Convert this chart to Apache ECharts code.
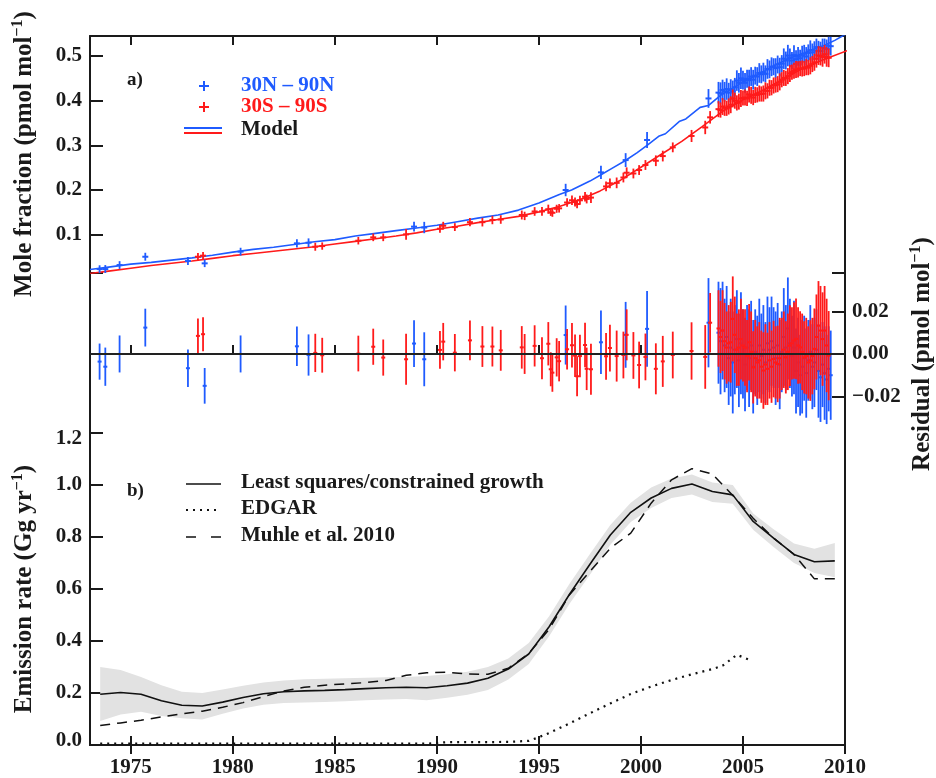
<!DOCTYPE html>
<html><head><meta charset="utf-8">
<script src="https://cdn.jsdelivr.net/npm/echarts@6/dist/echarts.min.js"></script>
<style>html,body{margin:0;padding:0;background:#fff}#c{width:936px;height:778px}</style>
</head><body><div id="c"></div>
<script>
// ---------------- DATA ----------------
const xTicks = [1975, 1980, 1985, 1990, 1995, 2000, 2005, 2010];
const moleTicks = [0.1, 0.2, 0.3, 0.4, 0.5];
const residTicks = [-0.02, 0, 0.02];
const emisTicks = [0, 0.2, 0.4, 0.6, 0.8, 1.0, 1.2];

// Model, 30N-90N
const modelNYears = [1973.0,1974.0,1975.0,1976.0,1977.0,1978.0,1979.0,1980.0,1981.0,1982.0,1983.0,1984.0,1985.0,1986.0,1987.0,1988.0,1989.0,1990.0,1991.0,1992.0,1993.0,1994.0,1995.0,1996.0,1996.6,1997.0,1997.5,1998.0,1998.6,1999.2,1999.8,2000.3,2000.9,2001.2,2001.9,2002.2,2002.9,2003.3,2003.9,2004.5,2005.0,2005.5,2006.0,2006.5,2007.0,2007.5,2008.0,2008.5,2009.0,2009.5,2010.0];
const modelNValues = [0.022,0.028,0.034,0.038,0.043,0.048,0.054,0.061,0.067,0.072,0.078,0.084,0.089,0.097,0.103,0.109,0.115,0.121,0.129,0.137,0.144,0.155,0.171,0.190,0.200,0.209,0.220,0.233,0.249,0.265,0.283,0.300,0.321,0.326,0.354,0.359,0.385,0.389,0.412,0.428,0.442,0.453,0.465,0.478,0.489,0.499,0.507,0.516,0.524,0.535,0.548];
// Model, 30S-90S
const modelSYears = [1973.0,1974.0,1975.0,1976.0,1977.0,1978.0,1979.0,1980.0,1981.0,1982.0,1983.0,1984.0,1985.0,1986.0,1987.0,1988.0,1989.0,1990.0,1991.0,1992.0,1993.0,1994.0,1995.0,1996.0,1997.0,1998.0,1999.0,2000.0,2001.0,2002.0,2003.0,2004.0,2005.0,2006.0,2007.0,2008.0,2009.0,2010.1];
const modelSValues = [0.013,0.019,0.025,0.031,0.036,0.041,0.047,0.053,0.058,0.063,0.068,0.073,0.079,0.085,0.091,0.097,0.104,0.112,0.119,0.127,0.134,0.141,0.151,0.163,0.178,0.198,0.222,0.251,0.280,0.309,0.342,0.376,0.402,0.424,0.449,0.474,0.493,0.512];

// Observations 30N-90N (year, mole fraction, uncertainty, residual)
const obsNYears = [1973.47,1973.75,1974.45,1975.71,1977.80,1978.62,1980.38,1983.14,1983.71,1988.88,1989.38,1996.31,1998.04,1999.25,2000.30,2003.31,
 2003.8,2003.9,2004.0,2004.1,2004.2,2004.3,2004.4,2004.5,
 2004.6,2004.7,2004.8,2004.9,2005.0,2005.1,2005.2,2005.3,
 2005.4,2005.5,2005.6,2005.7,2005.8,2005.9,2006.0,2006.1,
 2006.2,2006.3,2006.4,2006.5,2006.6,2006.7,2006.8,2006.9,
 2007.0,2007.1,2007.2,2007.3,2007.4,2007.5,2007.6,2007.7,
 2007.8,2007.9,2008.0,2008.1,2008.2,2008.3,2008.4,2008.5,
 2008.6,2008.7,2008.8,2008.9,2009.0,2009.1,2009.2,2009.3];
const obsNValues = [0.023,0.023,0.032,0.0506,0.041,0.0358,0.062,0.0806,0.082,0.118,0.116,0.200,0.2395,0.267,0.312,0.405,
 0.418,0.416,0.424,0.420,0.426,0.418,0.425,0.421,
 0.430,0.445,0.440,0.450,0.446,0.440,0.449,0.446,
 0.454,0.447,0.456,0.454,0.462,0.459,0.464,0.460,
 0.471,0.470,0.476,0.476,0.473,0.481,0.475,0.483,
 0.494,0.490,0.501,0.496,0.490,0.502,0.493,0.499,
 0.495,0.501,0.505,0.499,0.507,0.513,0.508,0.512,
 0.520,0.512,0.511,0.519,0.517,0.516,0.523,0.522];
const obsNErr = [0.0085,0.009,0.0087,0.0089,0.0088,0.0084,0.0087,0.0093,0.0097,0.011,0.0127,0.0139,0.0149,0.0155,0.0178,0.021,
 0.024,0.025,0.023,0.022,0.024,0.022,0.023,0.024,
 0.021,0.023,0.022,0.024,0.021,0.022,0.020,0.023,
 0.021,0.022,0.020,0.021,0.022,0.020,0.021,0.019,
 0.022,0.020,0.021,0.019,0.022,0.020,0.021,0.019,
 0.023,0.020,0.024,0.021,0.019,0.022,0.020,0.021,
 0.019,0.022,0.020,0.021,0.019,0.022,0.020,0.021,
 0.019,0.022,0.021,0.020,0.022,0.021,0.020,0.021];
const resNValues = [-0.0036,-0.006,0,0.0124,-0.0067,-0.015,0,0.0036,-0.0005,0.0049,-0.0025,0.0089,0.0055,0.009,0.0118,0.0147,
 0.010,0.006,0.011,0.004,0.008,-0.002,0.003,-0.004,
 0.002,0.007,-0.003,0.005,0.000,-0.005,0.003,-0.002,
 0.004,-0.006,0.001,-0.003,0.004,-0.001,0.002,-0.004,
 0.005,0.002,0.006,0.003,-0.002,0.004,-0.005,0.001,
 0.008,0.003,0.012,0.005,-0.001,0.003,-0.008,-0.004,
 -0.010,-0.006,-0.002,-0.009,-0.003,0.001,-0.006,-0.004,
 0.002,-0.008,-0.011,-0.005,-0.009,-0.012,-0.007,-0.010];

// Observations 30S-90S
const obsSYears = [1978.29,1978.54,1984.04,1984.38,1986.15,1986.88,1987.37,1988.49,1990.15,1990.31,1990.88,1991.62,1992.23,1992.72,1993.13,1994.16,1994.30,1994.79,1995.15,1995.46,1995.58,1995.66,1995.87,1995.99,1996.38,1996.62,1996.77,1996.87,1997.01,1997.26,1997.34,1997.55,1998.29,1998.48,1998.81,1999.14,1999.30,1999.63,1999.91,2000.22,2000.73,2001.07,2001.56,2002.48,2003.15,2003.39,
 2003.8,2003.9,2004.0,2004.1,2004.2,2004.3,2004.4,2004.5,2004.6,2004.7,2004.8,
 2004.9,2005.0,2005.1,2005.2,2005.3,2005.4,2005.5,2005.6,2005.7,2005.8,2005.9,
 2006.0,2006.1,2006.2,2006.3,2006.4,2006.5,2006.6,2006.7,2006.8,2006.9,2007.0,
 2007.1,2007.2,2007.3,2007.4,2007.5,2007.6,2007.7,2007.8,2007.9,2008.0,2008.1,
 2008.2,2008.3,2008.4,2008.5,2008.6,2008.7,2008.8,2008.9,2009.0,2009.1,2009.2];
const obsSValues = [0.0506,0.053,0.073,0.0745,0.0865,0.094,0.094,0.1007,0.1134,0.120,0.117,0.128,0.128,0.1328,0.134,0.144,0.142,0.152,0.152,0.157,0.150,0.149,0.158,0.159,0.172,0.177,0.173,0.1686,0.177,0.185,0.180,0.183,0.208,0.215,0.216,0.228,0.2387,0.237,0.2447,0.256,0.2655,0.276,0.2955,0.321,0.340,0.3627,
 0.381,0.379,0.387,0.384,0.383,0.387,0.391,0.405,0.400,0.395,0.398,
 0.405,0.406,0.407,0.405,0.414,0.412,0.407,0.413,0.413,0.416,0.415,
 0.416,0.422,0.422,0.429,0.429,0.434,0.435,0.437,0.442,0.447,0.451,
 0.450,0.455,0.461,0.464,0.467,0.470,0.470,0.472,0.472,0.472,0.475,
 0.474,0.478,0.482,0.486,0.494,0.501,0.500,0.498,0.504,0.498,0.496];
const obsSErr = [0.0082,0.008,0.009,0.0082,0.0084,0.0085,0.0085,0.012,0.0089,0.0088,0.0088,0.0094,0.0096,0.0094,0.0096,0.010,0.0094,0.0097,0.0099,0.0102,0.008,0.009,0.009,0.0095,0.0095,0.0105,0.010,0.0094,0.010,0.0105,0.010,0.012,0.011,0.011,0.012,0.011,0.012,0.011,0.011,0.011,0.012,0.012,0.011,0.0135,0.015,0.014,
 0.018,0.017,0.019,0.018,0.017,0.018,0.019,0.020,0.018,0.017,0.018,
 0.019,0.017,0.018,0.017,0.018,0.019,0.017,0.018,0.017,0.018,0.017,
 0.018,0.019,0.017,0.018,0.017,0.018,0.017,0.018,0.019,0.017,0.018,
 0.017,0.018,0.019,0.017,0.018,0.019,0.018,0.017,0.018,0.017,0.018,
 0.017,0.019,0.018,0.019,0.020,0.021,0.021,0.022,0.021,0.022,0.021];
const resSValues = [0.0085,0.0093,0.0005,-0.0006,0.0002,0.0034,-0.0017,-0.0025,0.0019,0.0058,0.0006,0.0064,0.0035,0.0035,0.0017,0.0031,0,0.0038,-0.002,0.0048,-0.0072,-0.0088,-0.0016,-0.0034,0.0022,0.0041,-0.0008,-0.0105,-0.001,0.0042,-0.007,-0.0072,-0.0011,0.0028,-0.001,-0.0005,0.009,-0.0007,-0.0052,-0.0014,-0.007,-0.0035,-0.0005,0.0014,-0.0014,0.0147,
 0.012,0.008,0.011,0.006,0.003,0.005,0.0055,0.0165,0.009,0.002,0.003,
 0.007,0.004,0.003,-0.001,0.0055,0.001,-0.0063,-0.002,-0.004,-0.003,-0.006,
 -0.0078,-0.005,-0.007,-0.003,-0.006,-0.0024,-0.004,-0.0047,-0.002,0.000,0.002,
 -0.0016,0.001,0.0039,0.005,0.0063,0.0071,0.004,0.0031,0.001,-0.0016,-0.001,
 -0.004,-0.0031,-0.001,0.0024,0.008,0.0133,0.011,0.007,0.011,0.004,-0.0008];

// Emission rates (Gg/yr)
const emisYears = [1973.5,1974.5,1975.5,1976.5,1977.5,1978.5,1979.5,1980.5,1981.5,1982.5,1983.5,1984.5,1985.5,1986.5,1987.5,1988.5,1989.5,1990.5,1991.5,1992.5,1993.5,1994.5,1995.5,1996.5,1997.5,1998.5,1999.5,2000.5,2001.5,2002.5,2003.5,2004.5,2005.5,2006.5,2007.5,2008.5,2009.5];
const lsValues = [0.195,0.202,0.195,0.170,0.153,0.150,0.165,0.183,0.197,0.205,0.208,0.210,0.213,0.217,0.220,0.222,0.220,0.228,0.238,0.257,0.292,0.350,0.455,0.580,0.695,0.808,0.895,0.950,0.987,1.004,0.975,0.962,0.860,0.796,0.733,0.705,0.708];
const lsUpper = [0.300,0.288,0.262,0.230,0.205,0.200,0.213,0.228,0.240,0.248,0.253,0.255,0.257,0.259,0.261,0.262,0.265,0.272,0.282,0.300,0.333,0.392,0.495,0.620,0.735,0.846,0.932,0.990,1.025,1.040,1.010,1.000,0.890,0.830,0.775,0.755,0.777];
const lsLower = [0.092,0.117,0.128,0.112,0.103,0.098,0.120,0.140,0.155,0.162,0.163,0.165,0.168,0.172,0.175,0.177,0.172,0.182,0.193,0.212,0.252,0.312,0.418,0.543,0.655,0.770,0.858,0.912,0.950,0.963,0.935,0.928,0.828,0.762,0.700,0.662,0.645];
const muhleValues = [0.075,0.085,0.095,0.108,0.120,0.130,0.145,0.163,0.186,0.208,0.222,0.230,0.235,0.240,0.248,0.268,0.278,0.280,0.273,0.272,0.295,0.352,0.445,0.578,0.668,0.757,0.815,0.930,1.020,1.063,1.042,0.960,0.872,0.796,0.733,0.639,0.639];
const edgarYears = [1973.5,1974.5,1975.5,1976.5,1977.5,1978.5,1979.5,1980.5,1981.5,1982.5,1983.5,1984.5,1985.5,1986.5,1987.5,1988.5,1989.5,1990.5,1991.5,1992.5,1993.5,1994.5,1995.0,1995.5,1996.5,1997.5,1998.5,1999.5,2000.5,2001.5,2002.5,2003.5,2004.0,2004.7,2005.4];
const edgarValues = [0.005,0.005,0.005,0.005,0.005,0.005,0.005,0.005,0.005,0.005,0.005,0.005,0.005,0.005,0.005,0.005,0.005,0.011,0.011,0.011,0.012,0.016,0.030,0.046,0.083,0.122,0.160,0.196,0.225,0.250,0.272,0.292,0.305,0.347,0.325];

// ---------------- CHART ----------------
const FONT = 'Liberation Serif';
const BLUE = '#1f5bff', RED = '#ff1a1a', INK = '#1a1a1a';
const pairs = (xs, ys) => xs.map((x, i) => [x, ys[i]]);
const triples = (xs, ys, es) => xs.map((x, i) => [x, ys[i], es[i]]);

function errRender(color, lw, half) {
  return function (params, api) {
    const x = api.value(0), v = api.value(1), e = api.value(2);
    const p = api.coord([x, v]);
    const hi = api.coord([x, v + e]);
    const lo = api.coord([x, v - e]);
    return {
      type: 'group',
      children: [
        { type: 'line', shape: { x1: p[0], y1: hi[1], x2: p[0], y2: lo[1] }, style: { stroke: color, lineWidth: lw } },
        { type: 'line', shape: { x1: p[0] - half, y1: p[1], x2: p[0] + half, y2: p[1] }, style: { stroke: color, lineWidth: 2 } }
      ]
    };
  };
}

function bandRender(params, api) {
  if (params.dataIndex !== 0) return null;
  const up = emisYears.map((y, i) => api.coord([y, lsUpper[i]]));
  const lo = emisYears.map((y, i) => api.coord([y, lsLower[i]])).reverse();
  return { type: 'polygon', shape: { points: up.concat(lo) }, style: { fill: '#e2e2e2' } };
}

const axLine = { show: true, lineStyle: { color: INK, width: 2 } };
const LBL = 21;
const lblBase = { fontFamily: FONT, fontWeight: 'bold', fontSize: LBL, color: INK };
const richEnds = {
  top: { fontFamily: FONT, fontWeight: 'bold', fontSize: LBL, color: INK, padding: [12, 0, 0, 0] },
  bot: { fontFamily: FONT, fontWeight: 'bold', fontSize: LBL, color: INK, padding: [0, 0, 9, 0] }
};

function xAx(grid, pos, withLabels) {
  return {
    type: 'value', gridIndex: grid, position: pos, min: 1973, max: 2010,
    axisLine: axLine, splitLine: { show: false },
    axisTick: { show: true, inside: true, length: 9, lineStyle: { color: INK, width: 2 }, customValues: xTicks },
    axisLabel: withLabels ? Object.assign({ show: true, customValues: xTicks, margin: 12, formatter: v => String(Math.round(v)) }, lblBase) : { show: false }
  };
}
const MOLE_MIN = 0.0142, MOLE_MAX = 0.5448, RES_MIN = -0.0372, RES_MAX = 0.0381;
function fmtRes(v) { if (Math.abs(v) < 1e-9) return '0.00'; return v < 0 ? '\u2212' + Math.abs(v).toFixed(2) : v.toFixed(2); }
function fmtEmis(v) {
  if (Math.abs(v - 1.2) < 1e-9) return '{top|1.2}';
  if (Math.abs(v) < 1e-9) return '{bot|0.0}';
  return v.toFixed(1);
}

const TITLE_RICH = {
  t: { fontFamily: FONT, fontWeight: 'bold', fontSize: 25, lineHeight: 30, fill: INK },
  s: { fontFamily: FONT, fontWeight: 'bold', fontSize: 16, lineHeight: 30, verticalAlign: 'top', fill: INK }
};
const LEG = 'bold 21px "Liberation Serif"';

const option = {
  animation: false,
  backgroundColor: '#fff',
  grid: [
    { left: 90, right: 91, top: 36, height: 237 },
    { left: 90, right: 91, top: 273, height: 160 },
    { left: 90, right: 91, top: 433, height: 318 }
  ],
  xAxis: [xAx(0, 'top', false), xAx(1, 'bottom', false), xAx(2, 'top', false), xAx(2, 'bottom', true)],
  yAxis: [
    { type: 'value', gridIndex: 0, position: 'left', min: MOLE_MIN, max: MOLE_MAX, axisLine: axLine, splitLine: { show: false },
      axisTick: { show: true, inside: true, length: 13, lineStyle: { color: INK, width: 2 }, customValues: [MOLE_MIN].concat(moleTicks) },
      axisLabel: Object.assign({ show: true, customValues: moleTicks, margin: 8, formatter: v => v.toFixed(1) }, lblBase) },
    { type: 'value', gridIndex: 0, position: 'right', min: MOLE_MIN, max: MOLE_MAX, axisLine: axLine, splitLine: { show: false }, axisTick: { show: false }, axisLabel: { show: false } },
    { type: 'value', gridIndex: 1, position: 'left', min: RES_MIN, max: RES_MAX, axisLine: axLine, splitLine: { show: false }, axisTick: { show: false }, axisLabel: { show: false } },
    { type: 'value', gridIndex: 1, position: 'right', min: RES_MIN, max: RES_MAX, axisLine: axLine, splitLine: { show: false },
      axisTick: { show: true, inside: true, length: 13, lineStyle: { color: INK, width: 2 }, customValues: residTicks.concat([RES_MAX]) },
      axisLabel: Object.assign({ show: true, customValues: residTicks, margin: 7, formatter: fmtRes }, lblBase) },
    { type: 'value', gridIndex: 2, position: 'left', min: 0, max: 1.2, axisLine: axLine, splitLine: { show: false },
      axisTick: { show: true, inside: true, length: 13, lineStyle: { color: INK, width: 2 }, customValues: emisTicks },
      axisLabel: Object.assign({ show: true, customValues: emisTicks, margin: 8, formatter: fmtEmis, rich: richEnds }, lblBase) },
    { type: 'value', gridIndex: 2, position: 'right', min: 0, max: 1.2, axisLine: axLine, splitLine: { show: false }, axisTick: { show: false }, axisLabel: { show: false } }
  ],
  series: [
    { type: 'custom', name: 'band', xAxisIndex: 3, yAxisIndex: 4, clip: true, z: 1, renderItem: bandRender,
      data: triples(emisYears, lsLower, lsUpper), encode: { x: 0, y: [1, 2] } },
    { type: 'line', name: 'Least squares/constrained growth', xAxisIndex: 3, yAxisIndex: 4, showSymbol: false, z: 3,
      lineStyle: { color: '#111', width: 1.6 }, data: pairs(emisYears, lsValues) },
    { type: 'line', name: 'EDGAR', xAxisIndex: 3, yAxisIndex: 4, showSymbol: false, z: 3, clip: false,
      lineStyle: { color: '#111', width: 2.2, type: [2, 5] }, data: pairs(edgarYears, edgarValues) },
    { type: 'line', name: 'Muhle et al. 2010', xAxisIndex: 3, yAxisIndex: 4, showSymbol: false, z: 3,
      lineStyle: { color: '#111', width: 1.5, type: [10, 7] }, data: pairs(emisYears, muhleValues) },
    { type: 'line', name: 'Model N', xAxisIndex: 0, yAxisIndex: 0, showSymbol: false, z: 3,
      lineStyle: { color: BLUE, width: 1.6 }, data: pairs(modelNYears, modelNValues) },
    { type: 'line', name: 'Model S', xAxisIndex: 0, yAxisIndex: 0, showSymbol: false, z: 3,
      lineStyle: { color: RED, width: 1.6 }, data: pairs(modelSYears, modelSValues) },
    { type: 'custom', name: '30N - 90N', xAxisIndex: 0, yAxisIndex: 0, clip: true, z: 4,
      renderItem: errRender(BLUE, 1.8, 3), data: triples(obsNYears, obsNValues, obsNErr), encode: { x: 0, y: 1 } },
    { type: 'custom', name: '30S - 90S', xAxisIndex: 0, yAxisIndex: 0, clip: true, z: 4,
      renderItem: errRender(RED, 1.8, 3), data: triples(obsSYears, obsSValues, obsSErr), encode: { x: 0, y: 1 } },
    { type: 'custom', name: 'resN', xAxisIndex: 1, yAxisIndex: 3, clip: true, z: 4,
      renderItem: errRender(BLUE, 1.8, 2), data: triples(obsNYears, resNValues, obsNErr), encode: { x: 0, y: 1 } },
    { type: 'custom', name: 'resS', xAxisIndex: 1, yAxisIndex: 3, clip: true, z: 5,
      renderItem: errRender(RED, 1.8, 2), data: triples(obsSYears, resSValues, obsSErr), encode: { x: 0, y: 1 },
      markLine: { silent: true, symbol: ['none', 'none'], label: { show: false }, z: 10,
        lineStyle: { color: '#222', width: 2, type: 'solid' }, data: [{ yAxis: 0 }] } }
  ],
  graphic: { elements: [
    // axis titles
    { type: 'text', x: 25, y: 154, rotation: Math.PI / 2, style: { text: '{t|Mole fraction (pmol mol}{s|\u22121}{t|)}', align: 'center', verticalAlign: 'middle', rich: TITLE_RICH } },
    { type: 'text', x: 25, y: 589, rotation: Math.PI / 2, style: { text: '{t|Emission rate (Gg yr}{s|\u22121}{t|)}', align: 'center', verticalAlign: 'middle', rich: TITLE_RICH } },
    { type: 'text', x: 923, y: 354, rotation: Math.PI / 2, style: { text: '{t|Residual (pmol mol}{s|\u22121}{t|)}', align: 'center', verticalAlign: 'middle', rich: TITLE_RICH } },
    // panel a legend
    { type: 'text', x: 127, y: 80, style: { text: 'a)', font: 'bold 19px "Liberation Serif"', fill: INK, verticalAlign: 'middle' } },
    { type: 'line', shape: { x1: 199, y1: 86, x2: 209, y2: 86 }, style: { stroke: BLUE, lineWidth: 2 } },
    { type: 'line', shape: { x1: 204, y1: 81, x2: 204, y2: 91 }, style: { stroke: BLUE, lineWidth: 2 } },
    { type: 'line', shape: { x1: 199, y1: 107, x2: 209, y2: 107 }, style: { stroke: RED, lineWidth: 2 } },
    { type: 'line', shape: { x1: 204, y1: 102, x2: 204, y2: 112 }, style: { stroke: RED, lineWidth: 2 } },
    { type: 'line', shape: { x1: 184, y1: 128, x2: 222, y2: 128 }, style: { stroke: BLUE, lineWidth: 2 } },
    { type: 'line', shape: { x1: 184, y1: 133, x2: 222, y2: 133 }, style: { stroke: RED, lineWidth: 2 } },
    { type: 'text', x: 241, y: 86, style: { text: '30N \u2013 90N', font: LEG, fill: BLUE, verticalAlign: 'middle' } },
    { type: 'text', x: 241, y: 107, style: { text: '30S \u2013 90S', font: LEG, fill: RED, verticalAlign: 'middle' } },
    { type: 'text', x: 241, y: 130, style: { text: 'Model', font: LEG, fill: INK, verticalAlign: 'middle' } },
    // panel b legend
    { type: 'text', x: 127, y: 491, style: { text: 'b)', font: 'bold 19px "Liberation Serif"', fill: INK, verticalAlign: 'middle' } },
    { type: 'line', shape: { x1: 186, y1: 484, x2: 221, y2: 484 }, style: { stroke: '#111', lineWidth: 1.6 } },
    { type: 'line', shape: { x1: 186, y1: 510, x2: 221, y2: 510 }, style: { stroke: '#111', lineWidth: 2.2, lineDash: [2, 5] } },
    { type: 'line', shape: { x1: 186, y1: 537, x2: 221, y2: 537 }, style: { stroke: '#111', lineWidth: 1.5, lineDash: [10, 15] } },
    { type: 'text', x: 241, y: 483, style: { text: 'Least squares/constrained growth', font: LEG, fill: INK, verticalAlign: 'middle' } },
    { type: 'text', x: 241, y: 509, style: { text: 'EDGAR', font: LEG, fill: INK, verticalAlign: 'middle' } },
    { type: 'text', x: 241, y: 536, style: { text: 'Muhle et al. 2010', font: LEG, fill: INK, verticalAlign: 'middle' } }
  ] }
};

const chart = echarts.init(document.getElementById('c'));
chart.setOption(option);
</script></body></html>
